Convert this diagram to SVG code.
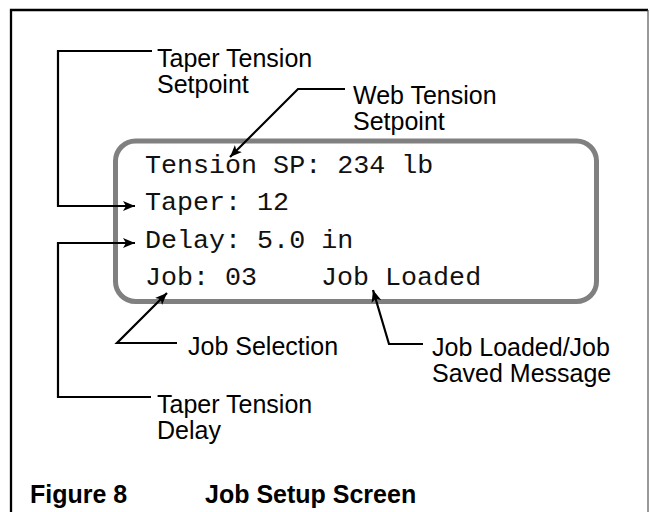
<svg xmlns="http://www.w3.org/2000/svg" width="650" height="512" viewBox="0 0 650 512">
<defs>
<style>
.lbl{font-family:"Liberation Sans",Arial,sans-serif;font-size:25px;fill:#000}
.mono{font-family:"Liberation Mono","Courier New",monospace;font-size:26.7px;fill:#111}
.cap{font-family:"Liberation Sans",Arial,sans-serif;font-size:25px;font-weight:bold;fill:#000}
.conn{fill:none;stroke:#000;stroke-width:2.2;marker-end:url(#arr)}
</style>
<marker id="arr" viewBox="0 0 12 10" markerWidth="12" markerHeight="10" refX="12" refY="5" orient="auto" markerUnits="userSpaceOnUse">
<path d="M0,0 L12,5 L0,10 L3,5 z" fill="#000"/>
</marker>
</defs>
<rect width="650" height="512" fill="#fff"/>
<g id="frame">
<path d="M11,512 V10 H648" fill="none" stroke="#000" stroke-width="2.3"/>
<path d="M648,10 V512" fill="none" stroke="#555" stroke-width="1.2"/>
</g>
<g id="screen">
<rect x="115.5" y="141" width="481" height="160.5" rx="20" ry="20" fill="none" stroke="#808080" stroke-width="5"/>
<text class="mono" x="145" y="173">Tension SP: 234 lb</text>
<text class="mono" x="145" y="210">Taper: 12</text>
<text class="mono" x="145" y="247.5">Delay: 5.0 in</text>
<text class="mono" x="145" y="285">Job: 03</text>
<text class="mono" x="321" y="285">Job Loaded</text>
</g>
<g id="connectors">
<path class="conn" d="M152,51 H58 V206 H135"/>
<path class="conn" d="M345,89 H298 L230,157"/>
<path class="conn" d="M151,397 H58 V243 H135"/>
<path class="conn" d="M177,343 H117 L167,293"/>
<path class="conn" d="M423,344 H389 L373,290"/>
</g>
<g id="taper-setpoint">
<text class="lbl" x="157" y="67">Taper Tension</text>
<text class="lbl" x="157" y="93">Setpoint</text>
</g>
<g id="web-setpoint">
<text class="lbl" x="353" y="104">Web Tension</text>
<text class="lbl" x="353" y="130">Setpoint</text>
</g>
<g id="job-selection">
<text class="lbl" x="188" y="355">Job Selection</text>
</g>
<g id="job-loaded">
<text class="lbl" x="432" y="356">Job Loaded/Job</text>
<text class="lbl" x="432" y="382">Saved Message</text>
</g>
<g id="taper-delay">
<text class="lbl" x="157" y="413">Taper Tension</text>
<text class="lbl" x="157" y="439">Delay</text>
</g>
<g id="caption">
<text class="cap" x="30" y="503">Figure 8</text>
<text class="cap" x="205" y="503">Job Setup Screen</text>
</g>
</svg>
